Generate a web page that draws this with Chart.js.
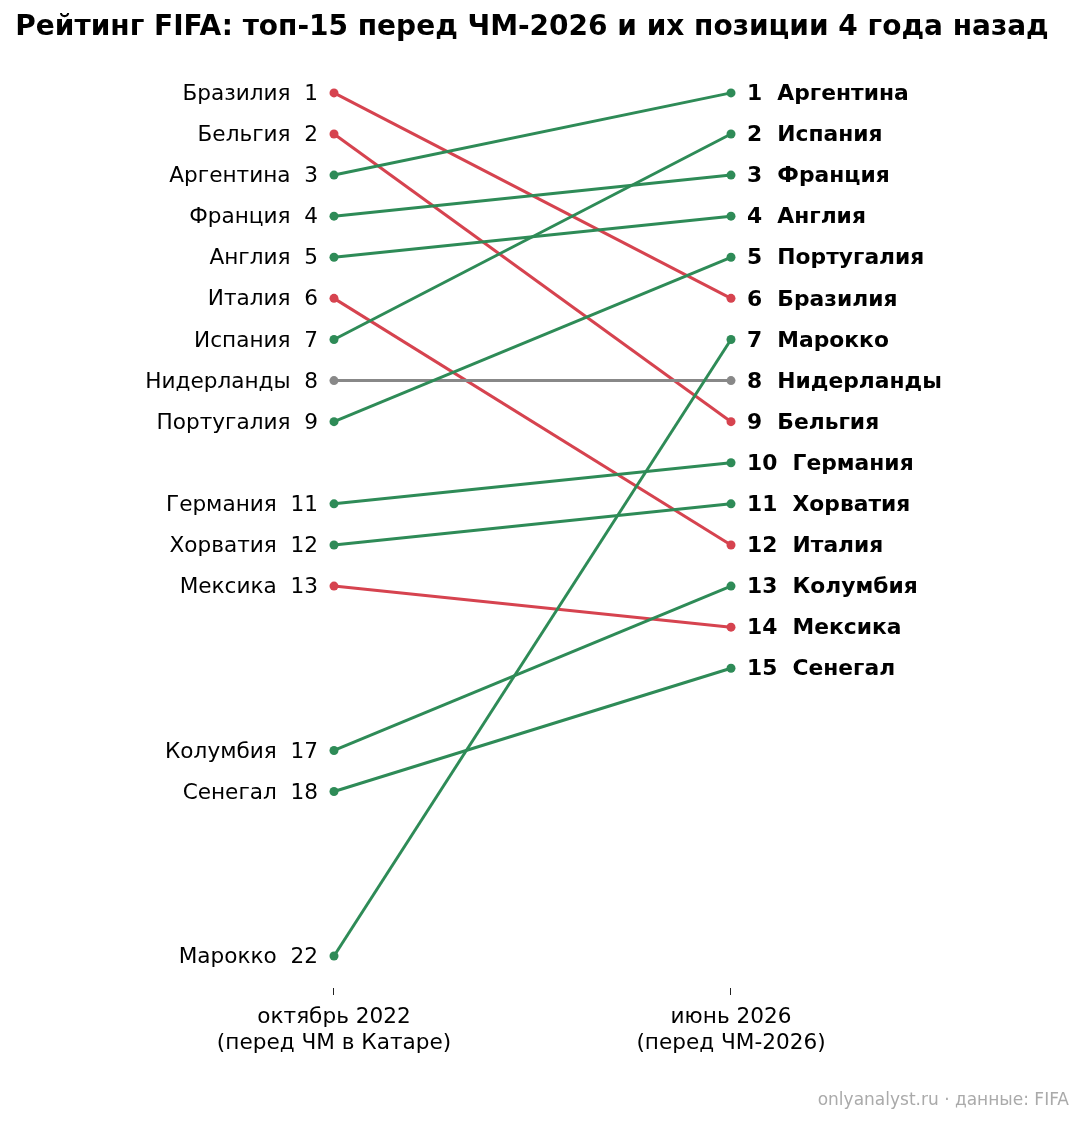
<!DOCTYPE html>
<html>
<head>
<meta charset="utf-8">
<script src="https://cdn.jsdelivr.net/npm/chart.js@4.4.0/dist/chart.umd.min.js"></script>
<style>
  html, body { margin: 0; padding: 0; background: #fff; }
  #wrap { width: 1084px; height: 1124px; }
</style>
</head>
<body>
<div id="wrap"><canvas id="slopeChart" width="1084" height="1124"></canvas></div>
<script>
// данные: рейтинг FIFA
var countries = ['Аргентина', 'Испания', 'Франция', 'Англия', 'Португалия', 'Бразилия', 'Марокко',
    'Нидерланды', 'Бельгия', 'Германия', 'Хорватия', 'Италия', 'Колумбия', 'Мексика', 'Сенегал'];
var rank2022 = [3, 7, 4, 5, 9, 1, 22, 8, 2, 11, 12, 6, 17, 13, 18];
var rank2026 = [1, 2, 3, 4, 5, 6, 7, 8, 9, 10, 11, 12, 13, 14, 15];
var periodLabels = [['октябрь 2022', '(перед ЧМ в Катаре)'], ['июнь 2026', '(перед ЧМ-2026)']];

var UP = '#2e8b57', DOWN = '#d6434f', SAME = '#888888';
var FONT = '"DejaVu Sans", sans-serif';

var datasets = countries.map(function (name, i) {
    var color = rank2026[i] < rank2022[i] ? UP : (rank2026[i] > rank2022[i] ? DOWN : SAME);
    return {
        label: name,
        data: [{ x: 0, y: rank2022[i] }, { x: 1, y: rank2026[i] }],
        borderColor: color,
        backgroundColor: color,
        borderWidth: 3,
        pointRadius: 4.5,
        pointBorderWidth: 0,
        tension: 0
    };
});

// подписи стран слева и справа + заголовок и источник
var labelsPlugin = {
    id: 'slopeLabels',
    afterDraw: function (chart) {
        var ctx = chart.ctx;
        var xs = chart.scales.x, ys = chart.scales.y;
        var x0 = xs.getPixelForValue(0), x1 = xs.getPixelForValue(1);
        ctx.save();
        ctx.textBaseline = 'middle';
        ctx.fillStyle = '#000';
        ctx.font = '21.6px ' + FONT;
        ctx.textAlign = 'right';
        countries.forEach(function (name, i) {
            ctx.fillText(name + '  ' + rank2022[i], x0 - 16, ys.getPixelForValue(rank2022[i]) + 1.5);
        });
        ctx.font = 'bold 21.8px ' + FONT;
        ctx.textAlign = 'left';
        countries.forEach(function (name, i) {
            ctx.fillText(rank2026[i] + '  ' + name, x1 + 16, ys.getPixelForValue(rank2026[i]) + 1.5);
        });

        ctx.font = 'bold 28px ' + FONT;
        ctx.textAlign = 'center';
        ctx.fillText('Рейтинг FIFA: топ-15 перед ЧМ-2026 и их позиции 4 года назад', 532, 28);

        ctx.font = '17px ' + FONT;
        ctx.fillStyle = '#aaaaaa';
        ctx.textAlign = 'right';
        ctx.fillText('onlyanalyst.ru · данные: FIFA', 1069, 1101);
        ctx.restore();
    }
};

new Chart(document.getElementById('slopeChart').getContext('2d'), {
    type: 'line',
    data: { datasets: datasets },
    options: {
        responsive: false,
        animation: false,
        devicePixelRatio: 1,
        layout: { padding: { left: 100, right: 84, top: 60, bottom: 0 } },
        plugins: { legend: { display: false }, tooltip: { enabled: false }, title: { display: false } },
        scales: {
            x: {
                type: 'linear',
                min: -0.5894,
                max: 1.6776,
                afterBuildTicks: function (scale) {
                    scale.ticks = [{ value: 0 }, { value: 1 }];
                },
                afterFit: function (scale) { scale.height = 136; },
                grid: { drawOnChartArea: false, drawTicks: true, tickLength: 7, color: '#222', lineWidth: 1 },
                border: { display: false },
                ticks: {
                    color: '#000',
                    font: { family: FONT, size: 21.6, lineHeight: 1.22 },
                    padding: 9,
                    maxRotation: 0,
                    callback: function (value) { return periodLabels[value]; }
                }
            },
            y: {
                type: 'linear',
                reverse: true,
                min: 0.2,
                max: 22.78,
                display: false
            }
        }
    },
    plugins: [labelsPlugin]
});
</script>
</body>
</html>
